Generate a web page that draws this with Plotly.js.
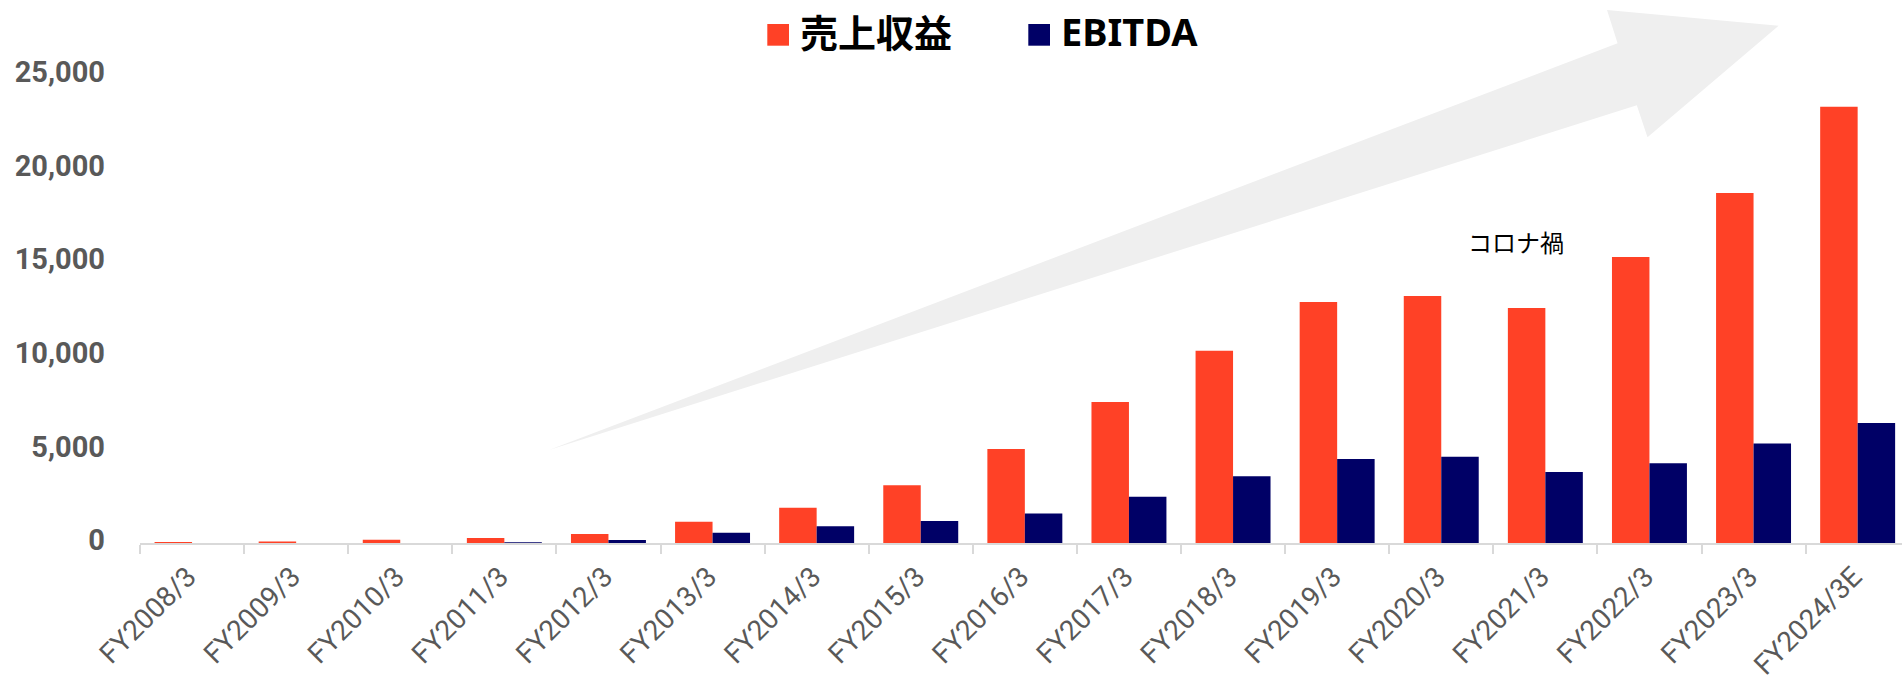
<!DOCTYPE html>
<html>
<head>
<meta charset="utf-8">
<script src="https://cdn.plot.ly/plotly-3.0.1.min.js"></script>
<style>
html, body { margin: 0; padding: 0; background: #ffffff; }
#chart { width: 1902px; height: 683px; }
</style>
</head>
<body>
<div id="chart"></div>
<script>
// ---- data ----
const categories = ["FY2008/3", "FY2009/3", "FY2010/3", "FY2011/3", "FY2012/3", "FY2013/3",
  "FY2014/3", "FY2015/3", "FY2016/3", "FY2017/3", "FY2018/3", "FY2019/3", "FY2020/3",
  "FY2021/3", "FY2022/3", "FY2023/3", "FY2024/3E"];
const revenue = [50, 80, 180, 270, 480, 1140, 1880, 3080, 5020, 7530, 10270, 12870, 13190, 12550, 15280, 18700, 23300];
const ebitda = [0, 0, 0, 40, 160, 550, 900, 1180, 1570, 2470, 3560, 4490, 4610, 3790, 4260, 5320, 6410];
const seriesNames = ["売上収益", "EBITDA"];
const seriesColors = ["#FF4126", "#000066"];
const yTickVals = [0, 5000, 10000, 15000, 20000, 25000];
const noteText = "コロナ禍";

// ---- layout helpers (pixel -> paper) ----
const W = 1902, H = 683;
const M = { l: 140, r: 0, t: 75, b: 140 };
const PW = W - M.l - M.r, PH = H - M.t - M.b;
const px = x => (x - M.l) / PW;
const py = y => (H - M.b - y) / PH;

const traces = [
  { type: "bar", name: seriesNames[0], x: categories, y: revenue,
    marker: { color: seriesColors[0] }, hoverinfo: "x+y" },
  { type: "bar", name: seriesNames[1], x: categories, y: ebitda,
    marker: { color: seriesColors[1] }, hoverinfo: "x+y" }
];

const arrowPts = [[549, 450], [1617.6, 43.3], [1607, 10], [1778.6, 25.7], [1647.5, 137.3], [1636.8, 105.3]];
const arrowPath = "M" + arrowPts.map(p => px(p[0]).toFixed(5) + "," + py(p[1]).toFixed(5)).join(" L") + " Z";

const catWidthPx = 104.1;

const layout = {
  width: W, height: H,
  margin: M,
  paper_bgcolor: "#ffffff",
  plot_bgcolor: "rgba(0,0,0,0)",
  barmode: "group",
  bargap: 0.28,
  bargroupgap: 0,
  showlegend: false,
  font: { family: "Roboto, 'Noto Sans', sans-serif", color: "#595959" },
  xaxis: {
    type: "category",
    range: [-0.5, -0.5 + PW / catWidthPx],
    showline: true, linecolor: "#D9D9D9", linewidth: 2,
    ticks: "outside", tickson: "boundaries", ticklen: 9, tickwidth: 2, tickcolor: "#D9D9D9",
    tickangle: -45,
    ticklabelstandoff: 4,
    ticklabelshift: -4,
    tickfont: { family: "Roboto, sans-serif", size: 28, color: "#595959" },
    showgrid: false, zeroline: false,
    fixedrange: true
  },
  yaxis: {
    range: [0, 25000],
    tickvals: yTickVals,
    tickformat: ",",
    showgrid: false, zeroline: false, showline: false,
    ticks: "",
    ticklabelstandoff: 34,
    ticklabelshift: -3,
    tickfont: { family: "Roboto, sans-serif", size: 29, color: "#595959", weight: "bold" },
    fixedrange: true
  },
  shapes: [
    { type: "path", xref: "paper", yref: "paper", path: arrowPath,
      fillcolor: "#EFEFEF", line: { width: 0 }, layer: "below" },
    { type: "rect", xref: "paper", yref: "paper",
      x0: px(767.3), x1: px(789), y0: py(45.7), y1: py(24),
      fillcolor: seriesColors[0], line: { width: 0 } },
    { type: "rect", xref: "paper", yref: "paper",
      x0: px(1028.3), x1: px(1050), y0: py(45.7), y1: py(24),
      fillcolor: seriesColors[1], line: { width: 0 } }
  ],
  annotations: [
    { xref: "paper", yref: "paper", x: px(798), y: py(31), xanchor: "left", yanchor: "middle",
      text: seriesNames[0], showarrow: false,
      font: { family: "'Noto Sans CJK JP', sans-serif", size: 38, color: "#000000", weight: "bold" } },
    { xref: "paper", yref: "paper", x: px(1059), y: py(31), xanchor: "left", yanchor: "middle",
      text: seriesNames[1], showarrow: false,
      font: { family: "'Noto Sans', 'Noto Sans CJK JP', sans-serif", size: 38, color: "#000000", weight: "bold" } },
    { xref: "paper", yref: "paper", x: px(1516.3), y: py(242), xanchor: "center", yanchor: "middle",
      text: noteText, showarrow: false,
      font: { family: "'Noto Sans CJK JP', sans-serif", size: 24, color: "#000000" } }
  ]
};

Plotly.newPlot("chart", traces, layout, { displayModeBar: false, staticPlot: true });
</script>
</body>
</html>
